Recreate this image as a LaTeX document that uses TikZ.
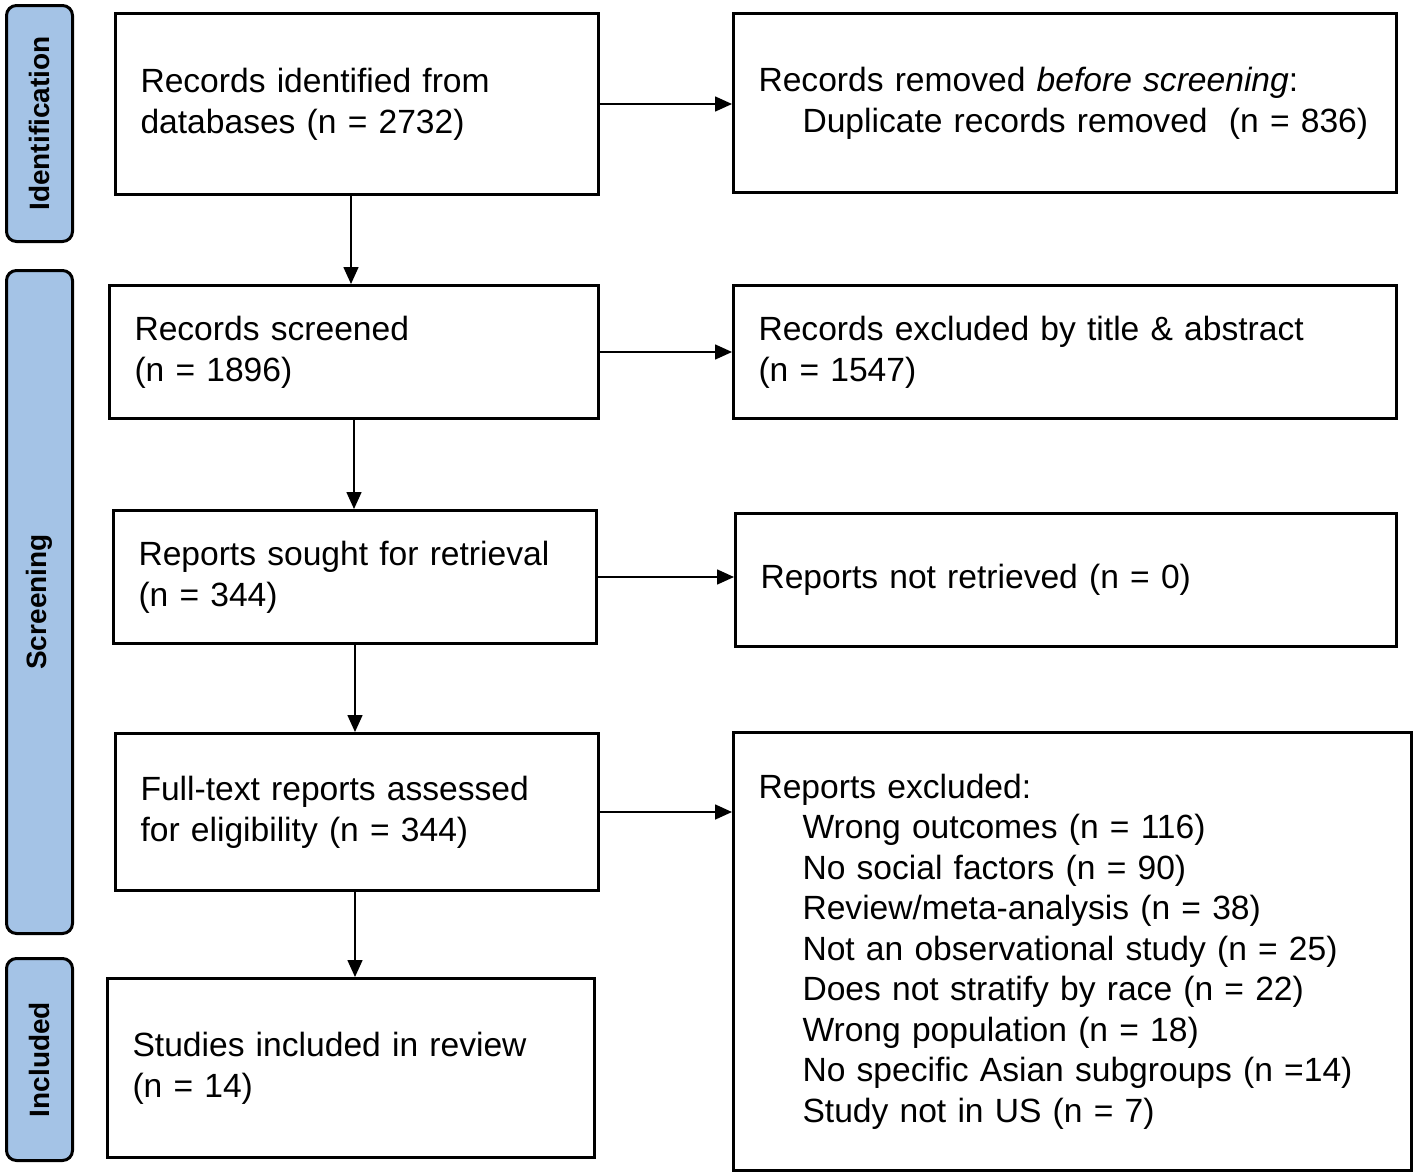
\documentclass[tikz,border=0pt]{standalone}
\usepackage{fontspec}
\setmainfont{Liberation Sans}
\usetikzlibrary{arrows.meta}
\definecolor{sidebl}{HTML}{A4C3E6}
\begin{document}
\begin{tikzpicture}[x=1pt,y=-1pt,
  box/.style={draw=black,line width=3pt,anchor=north west,align=left,inner xsep=25pt,inner ysep=0pt,
    font=\fontsize{33.6}{41}\selectfont},
  side/.style={draw=black,line width=3pt,fill=sidebl,rounded corners=10pt,anchor=north west,inner sep=0pt},
  sidetext/.style={rotate=90,font=\bfseries\fontsize{28}{32}\selectfont},
  arr/.style={line width=1.6pt,-{Triangle[length=17pt,width=15pt]}}]
\useasboundingbox (0,0) rectangle (1416,1175);
% side bars
\node[side,minimum width=66pt,minimum height=236pt] (sid) at (5,4) {};
\node[sidetext] (sidt) at (sid.center) {Identification};
\node[side,minimum width=66pt,minimum height=663pt] (sscr) at (5,269) {};
\node[sidetext] (sscrt) at (sscr.center) {Screening};
\node[side,minimum width=66pt,minimum height=202pt] (sinc) at (5,957) {};
\node[sidetext] (sinct) at (sinc.center) {Included};
% left column
\node[box,minimum width=483pt,minimum height=181pt,text width=433pt] (b1) at (114,12)
  {Records identified from\\databases (n = 2732)};
\node[box,minimum width=489pt,minimum height=133pt,text width=439pt] (b2) at (108,284)
  {Records screened\\(n = 1896)};
\node[box,minimum width=483pt,minimum height=133pt,text width=433pt] (b3) at (112,509)
  {Reports sought for retrieval\\(n = 344)};
\node[box,minimum width=483pt,minimum height=157pt,text width=433pt] (b4) at (114,732)
  {Full-text reports assessed\\for eligibility (n = 344)};
\node[box,minimum width=487pt,minimum height=179pt,text width=437pt] (b5) at (106,977)
  {Studies included in review\\(n = 14)};
% right column
\node[box,minimum width=663pt,minimum height=179pt,text width=613pt] (r1) at (732,12)
  {Records removed \textit{before screening}:\\\mbox{\hspace*{44pt}Duplicate records removed\hspace{0.3em} (n = 836)}};
\node[box,minimum width=663pt,minimum height=133pt,text width=613pt] (r2) at (732,284)
  {Records excluded by title \& abstract\\(n = 1547)};
\node[box,minimum width=661pt,minimum height=133pt,text width=611pt] (r3) at (734,512)
  {Reports not retrieved (n = 0)};
\node[box,minimum width=678pt,minimum height=438pt,text width=628pt,
  font=\fontsize{33.6}{40.5}\selectfont] (r4) at (732,731)
  {Reports excluded:\\
   \hspace*{44pt}Wrong outcomes (n = 116)\\
   \hspace*{44pt}No social factors (n = 90)\\
   \hspace*{44pt}Review/meta-analysis (n = 38)\\
   \hspace*{44pt}Not an observational study (n = 25)\\
   \hspace*{44pt}Does not stratify by race (n = 22)\\
   \hspace*{44pt}Wrong population (n = 18)\\
   \hspace*{44pt}No specific Asian subgroups (n =14)\\
   \hspace*{44pt}Study not in US (n = 7)};
% arrows
\draw[arr] (b1.south -| 351,0) -- (b2.north -| 351,0);
\draw[arr] (b2.south) -- (b2.south |- b3.north);
\draw[arr] (b3.south) -- (b3.south |- b4.north);
\draw[arr] (b4.south -| b3.south) -- (b3.south |- b5.north);
\draw[arr] (b1.east) -- (b1.east -| r1.west);
\draw[arr] (b2.east) -- (b2.east -| r2.west);
\draw[arr] (b3.east) -- (b3.east -| r3.west);
\draw[arr] (b4.east) -- (b4.east -| r4.west);
\end{tikzpicture}
\end{document}
